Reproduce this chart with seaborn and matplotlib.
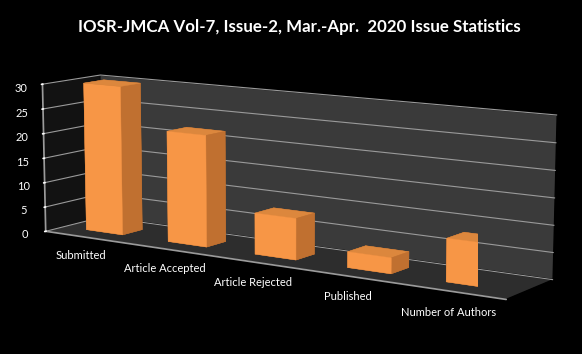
import numpy as np
import matplotlib
matplotlib.use('Agg')
import matplotlib.pyplot as plt
import seaborn as sns

# chart data
categories = ['Submitted', 'Article Accepted', 'Article Rejected', 'Published', 'Number of Authors']
counts = [30, 22, 8, 3, 8]
value_ticks = [0, 5, 10, 15, 20, 25, 30]
title = 'IOSR-JMCA Vol-7, Issue-2, Mar.-Apr.  2020 Issue Statistics'

sns.set_theme(style='dark')
plt.rcParams['font.family'] = ['Lato', 'DejaVu Sans']

# excel-like orange faces: bottom, top, front, back, left, right
bar_front = '#F79646'
bar_top = '#DC873D'
bar_side = '#C07030'
face_order = [bar_side, bar_top, bar_front, bar_side, bar_side, bar_side]

fig = plt.figure(figsize=(5.82, 3.54), dpi=100, facecolor='black')
ax = fig.add_axes([-0.08, -0.075, 1.12, 1.12], projection='3d')
ax.set_facecolor('black')
ax.set_proj_type('persp', focal_length=0.9)
ax.view_init(elev=10, azim=-56)

n = len(categories)
x = np.arange(n)
bar_w = 0.45
bar_d = 0.35
colors = face_order * n
ax.bar3d(x - bar_w / 2, np.full(n, 0.5 - bar_d / 2), np.zeros(n),
         bar_w, bar_d, counts, color=colors, edgecolor=colors,
         linewidth=0.3, shade=False)

ax.set_xlim(-0.5, n - 0.5)
ax.set_ylim(0, 1)
ax.set_zlim(0, 30)
ax.set_box_aspect((4.6, 0.8, 1.32), zoom=1.42)

# walls and floor
ax.xaxis.set_pane_color((0.07, 0.07, 0.07, 1))
ax.yaxis.set_pane_color('#3a3a3a')
ax.zaxis.set_pane_color('#2d2d2d')
for a in (ax.xaxis, ax.yaxis, ax.zaxis):
    a.pane.set_edgecolor((0, 0, 0, 0))

# only value gridlines
ax.xaxis._axinfo['grid']['color'] = (0, 0, 0, 0)
ax.yaxis._axinfo['grid']['color'] = (0, 0, 0, 0)
ax.zaxis._axinfo['grid']['color'] = '#9a9a9a'
ax.zaxis._axinfo['grid']['linewidth'] = 0.8
ax.xaxis._axinfo['tick']['inward_factor'] = 0
ax.xaxis._axinfo['tick']['outward_factor'] = 0

ax.set_xticks(x, categories)
ax.set_yticks([])
ax.set_zticks(value_ticks)
ax.zaxis.set_ticks_position('lower')
ax.tick_params(axis='x', colors='white', labelsize=8, pad=4)
ax.tick_params(axis='z', colors='white', labelsize=8, pad=-1)
ax.xaxis.line.set_color('#9a9a9a')
ax.zaxis.line.set_color('#9a9a9a')
ax.yaxis.line.set_color((0, 0, 0, 0))

fig.text(0.515, 0.925, title, color='white', fontsize=12.2, fontweight='bold',
         ha='center', va='center')

fig.savefig('out.png', dpi=100, facecolor='black')
